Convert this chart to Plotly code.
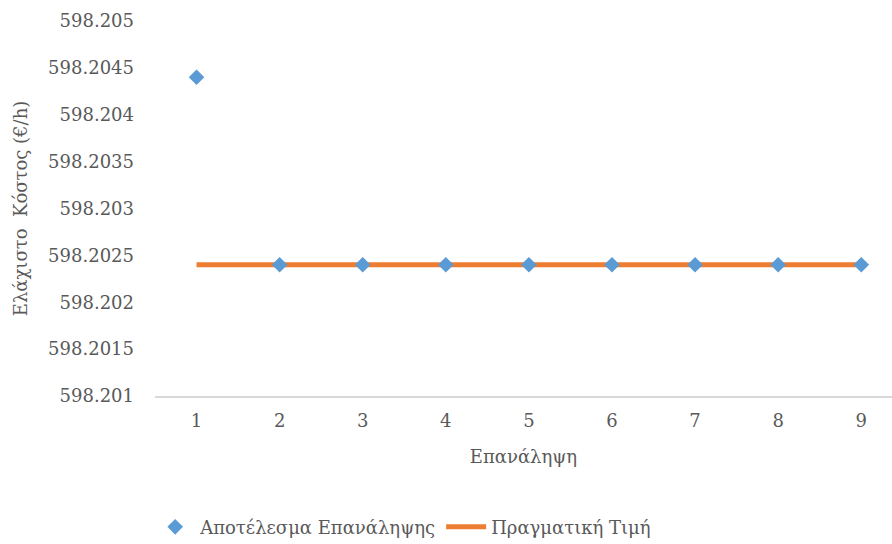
import plotly.graph_objects as go

# Iteration numbers and the cost found at each iteration
iterations = [1, 2, 3, 4, 5, 6, 7, 8, 9]
iteration_cost = [598.2044, 598.2024, 598.2024, 598.2024, 598.2024,
                  598.2024, 598.2024, 598.2024, 598.2024]
# True (reference) minimum cost
true_cost = [598.2024] * 9

y_ticks = [598.201, 598.2015, 598.202, 598.2025, 598.203,
           598.2035, 598.204, 598.2045, 598.205]
y_tick_text = ["598.201", "598.2015", "598.202", "598.2025", "598.203",
               "598.2035", "598.204", "598.2045", "598.205"]

FONT = "DejaVu Serif"
GREY = "#595959"
FS = 18

fig = go.Figure()

fig.add_trace(go.Scatter(
    x=iterations, y=true_cost, mode="lines",
    name="Πραγματική Τιμή",
    line=dict(color="#ED7D31", width=5),
    legendrank=2,
))
fig.add_trace(go.Scatter(
    x=iterations, y=iteration_cost, mode="markers",
    name="Αποτέλεσμα Επανάληψης",
    marker=dict(symbol="diamond", color="#5B9BD5", size=12),
    legendrank=1,
))

fig.update_layout(
    width=892, height=544,
    margin=dict(l=155, r=0, t=21, b=148),
    paper_bgcolor="white", plot_bgcolor="white",
    font=dict(family=FONT, size=FS, color=GREY),
    showlegend=True,
    legend=dict(
        orientation="h", xref="container", yref="container",
        x=0.452, xanchor="center", y=0.031, yanchor="middle",
        font=dict(family=FONT, size=FS, color=GREY),
        itemwidth=40,
    ),
    xaxis=dict(
        range=[0.5, 9.37], tickmode="array", tickvals=iterations,
        ticktext=[str(i) for i in iterations],
        showgrid=False, zeroline=False, showline=True,
        linecolor="#D9D9D9", linewidth=1.5, ticks="", ticklabelstandoff=8,
        tickfont=dict(family=FONT, size=FS, color=GREY),
        title=dict(text="Επανάληψη", font=dict(family=FONT, size=FS, color=GREY),
                   standoff=20),
    ),
    yaxis=dict(
        range=[598.201, 598.205], tickmode="array", tickvals=y_ticks,
        ticktext=y_tick_text, showgrid=False, zeroline=False,
        showline=False, ticks="", ticklabelstandoff=20,
        tickfont=dict(family=FONT, size=FS, color=GREY),
        title=dict(text="Ελάχιστο  Κόστος (€/h)",
                   font=dict(family=FONT, size=FS, color=GREY), standoff=15),
    ),
)

fig.write_html("out.html")
